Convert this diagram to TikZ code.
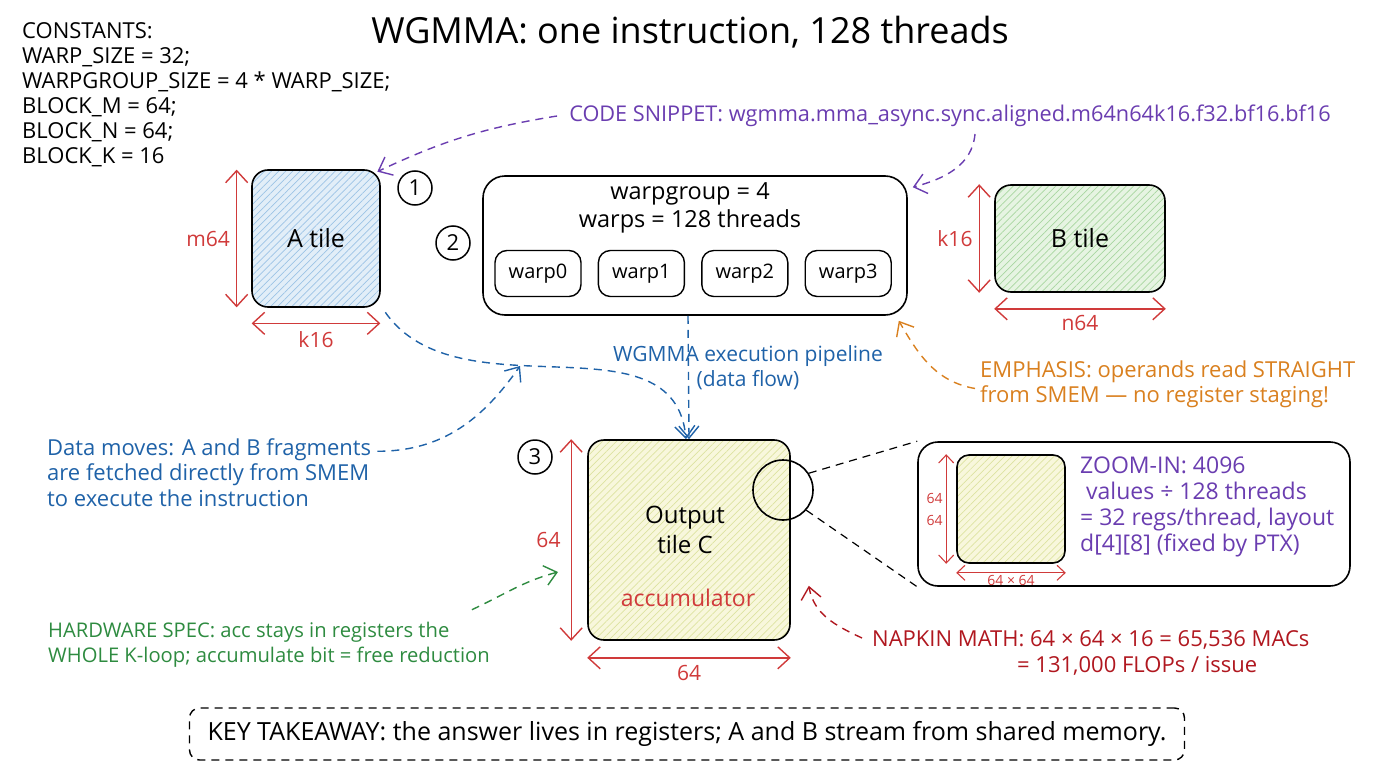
\documentclass[tikz,border=0pt]{standalone}
\usepackage{fontspec}
\setmainfont{Open Sans}
\usepackage{xcolor}
\usepackage{tikz}
\usetikzlibrary{arrows.meta,positioning,patterns.meta}
\definecolor{dimred}{HTML}{D03A3A}
\definecolor{codepurple}{HTML}{6A3DB0}
\definecolor{flowblue}{HTML}{1F62A8}
\definecolor{emphorange}{HTML}{D9801F}
\definecolor{specgreen}{HTML}{2E8B40}
\definecolor{mathred}{HTML}{B0171F}
\definecolor{afill}{HTML}{E2EEF8}
\definecolor{ahatch}{HTML}{9CC3E6}
\definecolor{bfill}{HTML}{E6F4E2}
\definecolor{bhatch}{HTML}{A8D6A0}
\definecolor{cfill}{HTML}{F8F7DC}
\definecolor{chatch}{HTML}{DDE3A0}
\newcommand{\fsz}[2]{\fontsize{#1}{#2}\selectfont}

\begin{document}
\begin{tikzpicture}[
x=1pt,y=-1pt,
node distance=16pt,
tile/.style={rectangle,rounded corners=16pt,draw=black,line width=1.6pt,inner sep=0pt,font=\fsz{25}{30}},
hatch/.style 2 args={preaction={fill=#1},pattern={Lines[angle=45,distance=5pt,line width=0.7pt]},pattern color=#2},
wbox/.style={rectangle,rounded corners=12pt,draw=black,line width=1.4pt,minimum width=86pt,minimum height=46pt,inner sep=0pt,font=\fsz{20}{22}},
num/.style={circle,draw=black,line width=1.5pt,minimum size=34pt,inner sep=0pt,font=\fsz{22}{24}},
dim/.style={{Straight Barb[length=12pt,width=22pt]}-{Straight Barb[length=12pt,width=22pt]},dimred,line width=1.4pt},
dimlbl/.style={dimred,inner sep=0pt,font=\fsz{21}{24}},
note/.style={align=left,inner sep=0pt,font=\fsz{22}{25.5}},
darr/.style={-{Straight Barb[length=12pt,width=20pt]},dash pattern=on 8pt off 6pt,line width=1.4pt}
]
\useasboundingbox (0,0) rectangle (1376,768);
\node[font=\fsz{36}{40}] (title) at (690,32) {WGMMA: one instruction, 128 threads};
\node[note,anchor=west,font=\fsz{22}{25}] (const) at (22,94.5) {CONSTANTS:\\WARP\_SIZE = 32;\\WARPGROUP\_SIZE = 4 * WARP\_SIZE;\\BLOCK\_M = 64;\\BLOCK\_N = 64;\\BLOCK\_K = 16};
\node[note,codepurple,font=\fsz{21.7}{25}] (snip) at (950,116) {CODE SNIPPET: wgmma.mma\_async.sync.aligned.m64n64k16.f32.bf16.bf16};
\coordinate (snipfoot) at (975,134);

\node[tile,hatch={afill}{ahatch},minimum width=128pt,minimum height=137pt] (atile) at (316,238.5) {A tile};
\draw[dim] ([xshift=-15pt]atile.north west) -- ([xshift=-15pt]atile.south west) node[midway,dimlbl,anchor=east,xshift=-6pt] {m64};
\draw[dim] ([yshift=-16pt]atile.south west) -- ([yshift=-16pt]atile.south east) node[midway,dimlbl,anchor=north,yshift=-7pt] {k16};
\node[num] (n1) at (415,188) {1};
\node[num] (n2) at (453,243) {2};

\node[draw=black,rectangle,rounded corners=22pt,line width=1.6pt,minimum width=424pt,minimum height=139pt] (wg) at (695,245.5) {};
\node[align=center,inner sep=0pt,font=\fsz{23.5}{28}] (wgtxt) at (690,208) {warpgroup = 4\\warps = 128 threads};
\node[wbox] (w0) at (538,273.5) {warp0};
\node[wbox,right=of w0] (w1) {warp1};
\node[wbox,right=of w1] (w2) {warp2};
\node[wbox,right=of w2] (w3) {warp3};

\node[tile,hatch={bfill}{bhatch},minimum width=170pt,minimum height=107pt] (btile) at (1080,238.5) {B tile};
\draw[dim] ([xshift=-15pt]btile.north west) -- ([xshift=-15pt]btile.south west) node[midway,dimlbl,anchor=east,xshift=-6pt] {k16};
\draw[dim] ([yshift=-16pt]btile.south west) -- ([yshift=-16pt]btile.south east) node[midway,dimlbl,anchor=north,yshift=-6pt] {n64};

\node[tile,hatch={cfill}{chatch},minimum width=202pt,minimum height=200pt] (ctile) at (689,540) {};
\node[align=center,inner sep=0pt,font=\fsz{24}{30}] (ctxt) at (685,530) {Output\\tile C};
\node[inner sep=0pt,dimred,font=\fsz{23}{26}] (acc) at (688,598) {accumulator};
\draw[dim] ([xshift=-16pt]ctile.north west) -- ([xshift=-16pt]ctile.south west) node[midway,dimlbl,anchor=east,xshift=-10pt] {64};
\draw[dim] ([yshift=-17pt]ctile.south west) -- ([yshift=-17pt]ctile.south east) node[midway,dimlbl,anchor=north,yshift=-7pt] {64};
\node[num] (n3) at (535,457) {3};

\node[circle,draw=black,line width=1.6pt,minimum size=60pt,inner sep=0pt] (lens) at (783,490) {};
\node[draw=black,rectangle,rounded corners=20pt,line width=1.6pt,minimum width=432pt,minimum height=144pt] (zoom) at (1134,514) {};
\draw[line width=1.2pt,dash pattern=on 8pt off 6pt] (lens.33) -- (zoom.north west);
\draw[line width=1.2pt,dash pattern=on 8pt off 6pt] (lens.-41) -- (zoom.south west);
\node[tile,hatch={cfill}{chatch},rounded corners=12pt,minimum width=108pt,minimum height=108pt] (zin) at (1011,509) {};
\draw[dim,{Straight Barb[length=8pt,width=15pt]}-{Straight Barb[length=8pt,width=15pt]},line width=1.1pt] ([xshift=-10pt]zin.north west) -- ([xshift=-10pt]zin.south west) node[midway,dimlbl,anchor=east,xshift=-3pt,align=right,font=\fsz{14}{22}] {64\\64};
\draw[dim,{Straight Barb[length=8pt,width=15pt]}-{Straight Barb[length=8pt,width=15pt]},line width=1.1pt] ([yshift=-9pt]zin.south west) -- ([yshift=-9pt]zin.south east) node[midway,dimlbl,anchor=north,yshift=-2pt,font=\fsz{14}{16}] {64 × 64};
\node[note,anchor=west,codepurple,font=\fsz{23}{26}] (ztxt) at (1080,507) {ZOOM-IN: 4096\\\ values ÷ 128 threads\\= 32 regs/thread, layout\\d[4][8] (fixed by PTX)};

\node[note,align=center,flowblue,font=\fsz{21}{25.5}] (pipe) at (748,367.5) {WGMMA execution pipeline\\(data flow)};
\node[note,anchor=west,flowblue] (dm) at (47,472.5) {Data moves: A and B fragments\\are fetched directly from SMEM\\to execute the instruction};
\coordinate (dmtip) at (520,366);
\node[note,anchor=west,emphorange] (emph) at (980,384.5) {EMPHASIS: operands read STRAIGHT\\from SMEM — no register staging!};
\node[note,anchor=west,specgreen,font=\fsz{20.2}{25}] (hw) at (48,644.5) {HARDWARE SPEC: acc stays in registers the\\WHOLE K-loop; accumulate bit = free reduction};
\coordinate (hwtip) at (558,572);
\node[note,anchor=west,mathred] (nap) at (872,653) {NAPKIN MATH: 64 × 64 × 16 = 65,536 MACs\\\hspace*{145pt}= 131,000 FLOPs / issue};
\node[draw=black,rectangle,rounded corners=10pt,line width=1.4pt,dash pattern=on 8pt off 6pt,minimum width=995pt,minimum height=52pt,font=\fsz{25}{28}] (key) at (687,734) {KEY TAKEAWAY: the answer lives in registers; A and B stream from shared memory.};

\draw[darr,codepurple] ([xshift=-12pt]snip.west) to[bend right=8] ([xshift=-3pt,yshift=-2pt]atile.north east);
\draw[darr,codepurple] (snipfoot) to[out=-95,in=15] ([xshift=5pt,yshift=-12pt]wg.north east);
\draw[darr,flowblue] ([xshift=-7pt]wg.south) -- (ctile.north);
\draw[darr,flowblue] ([xshift=5pt,yshift=-5pt]atile.south east) to[out=-55,in=95] ([xshift=-3pt]ctile.north);
\draw[darr,flowblue] ([xshift=6pt,yshift=-13pt]dm.north east) to[out=0,in=-125] (dmtip);
\draw[darr,emphorange] ([xshift=-5pt,yshift=-4pt]emph.west) to[out=170,in=-60] ([xshift=-9pt,yshift=-5pt]wg.south east);
\draw[darr,specgreen] ([xshift=-18pt,yshift=12pt]hw.north east) to[out=25,in=195] (hwtip);
\draw[darr,mathred] ([xshift=-10pt,yshift=15pt]nap.west) to[out=155,in=-80] ([xshift=18pt,yshift=55pt]ctile.south east);
\end{tikzpicture}
\end{document}
